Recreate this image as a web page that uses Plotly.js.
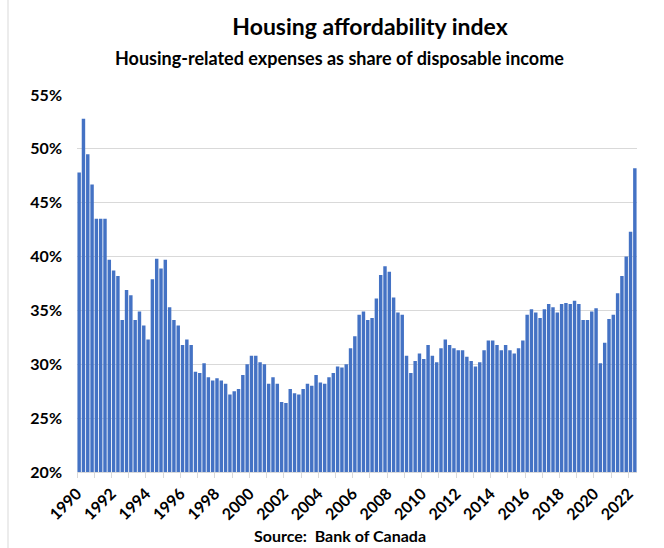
<!DOCTYPE html>
<html><head><meta charset="utf-8">
<script src="https://cdn.plot.ly/plotly-3.0.1.min.js"></script>
<style>html,body{margin:0;padding:0;background:#fff}</style>
</head><body>
<div id="chart" style="width:664px;height:548px"></div>
<script>
// Quarterly housing affordability index, 1990 Q1 - 2022 Q2 (% of disposable income)
const firstYear = 1990;
const affordability = [
  47.8, 52.8, 49.5, 46.7,  43.5, 43.5, 43.5, 39.7,  38.7, 38.2, 34.1, 36.9,
  36.4, 34.1, 34.9, 33.6,  32.3, 37.9, 39.8, 38.9,  39.7, 35.3, 34.1, 33.6,
  31.8, 32.3, 31.8, 29.3,  29.2, 30.1, 28.8, 28.5,  28.7, 28.5, 28.2, 27.2,
  27.5, 27.7, 29.0, 30.0,  30.8, 30.8, 30.2, 30.0,  28.2, 28.8, 28.2, 26.5,
  26.4, 27.7, 27.3, 27.2,  27.7, 28.2, 28.0, 29.0,  28.3, 28.2, 28.8, 29.2,
  29.8, 29.7, 30.0, 31.5,  32.6, 34.6, 34.9, 34.1,  34.3, 36.1, 38.3, 39.1,
  38.6, 36.2, 34.8, 34.6,  30.8, 29.2, 30.3, 31.0,  30.5, 31.8, 30.8, 30.2,
  31.5, 32.3, 31.8, 31.5,  31.3, 31.3, 30.7, 30.3,  29.8, 30.2, 31.3, 32.2,
  32.2, 31.8, 31.3, 31.8,  31.3, 31.0, 31.5, 32.2,  34.6, 35.1, 34.8, 34.3,
  35.1, 35.6, 35.3, 34.8,  35.6, 35.7, 35.6, 35.9,  35.6, 34.1, 34.1, 34.9,
  35.2, 30.1, 32.0, 34.2,  34.6, 36.6, 38.2, 40.0,  42.3, 48.2
];
const tickYears = [1990,1991,1992,1993,1994,1995,1996,1997,1998,1999,2000,2001,2002,2003,2004,2005,2006,2007,2008,2009,2010,2011,2012,2013,2014,2015,2016,2017,2018,2019,2020,2021,2022];
const tickLabels = ["1990","","1992","","1994","","1996","","1998","","2000","","2002","","2004","","2006","","2008","","2010","","2012","","2014","","2016","","2018","","2020","","2022"];
const yTicks = [20,25,30,35,40,45,50,55];
const yTickLabels = ["20%","25%","30%","35%","40%","45%","50%","55%"];
const titleText = "Housing affordability index";
const subtitleText = "Housing-related expenses as share of disposable income";
const sourceText = "Source:  Bank of Canada";

// quarter positions on a continuous year axis (centre of each quarter)
const xPos = affordability.map((v, i) => firstYear + Math.floor(i / 4) + (i % 4) / 4 + 0.125);
const quarterNames = affordability.map((v, i) => (firstYear + Math.floor(i / 4)) + " Q" + (i % 4 + 1));

const FONT = "Lato, 'Liberation Sans', Arial, sans-serif";
const trace = {
  type: 'bar', x: xPos, y: affordability, text: quarterNames, textposition: 'none',
  hovertemplate: '%{text}: %{y:.1f}%<extra></extra>',
  marker: {color: '#4472C4', line: {width: 0}}
};
const layout = {
  width: 664, height: 548,
  margin: {l: 77, r: 27, t: 95, b: 76},
  paper_bgcolor: '#ffffff', plot_bgcolor: '#ffffff',
  bargap: 0.2, showlegend: false,
  font: {family: FONT, color: '#000000'},
  title: {text: titleText, font: {family: FONT, size: 23, weight: 'bold', color: '#000'},
          xref: 'container', yref: 'container', x: 370/664, y: 1 - 27/548, xanchor: 'center', yanchor: 'middle'},
  xaxis: {
    range: [firstYear, 2022.5], tickmode: 'array', tickvals: tickYears, ticktext: tickLabels,
    tickangle: -45, ticks: 'outside', ticklen: 5, tickcolor: '#d9d9d9', tickwidth: 1,
    showline: true, linecolor: '#d9d9d9', linewidth: 1, showgrid: false, zeroline: false,
    tickfont: {family: FONT, size: 16, weight: 'bold', color: '#000'}
  },
  yaxis: {
    range: [20, 55], tickmode: 'array', tickvals: yTicks, ticktext: yTickLabels, ticks: '', ticklabelstandoff: 14,
    showgrid: true, gridcolor: '#d9d9d9', gridwidth: 1, zeroline: false, showline: false,
    tickfont: {family: FONT, size: 16, weight: 'bold', color: '#000'}
  },
  annotations: [
    {text: subtitleText, xref: 'paper', yref: 'paper', x: (339 - 77) / 560, y: (471.7 - 58) / 376.7,
     xanchor: 'center', yanchor: 'middle', showarrow: false,
     font: {family: FONT, size: 18, weight: 'bold', color: '#000'}},
    {text: sourceText, xref: 'paper', yref: 'paper', x: (340 - 77) / 560, y: (471.7 - 524) / 376.7,
     xanchor: 'center', yanchor: 'top', showarrow: false,
     font: {family: FONT, size: 16, weight: 'bold', color: '#000'}}
  ],
  shapes: [
    {type: 'line', xref: 'paper', yref: 'paper', x0: (8 - 77) / 560, x1: (8 - 77) / 560,
     y0: (471.7 - 548) / 376.7, y1: (471.7 - 0) / 376.7, line: {color: '#d9d9d9', width: 1}}
  ]
};
Plotly.newPlot('chart', [trace], layout, {displayModeBar: false, staticPlot: true});
</script>
</body></html>
